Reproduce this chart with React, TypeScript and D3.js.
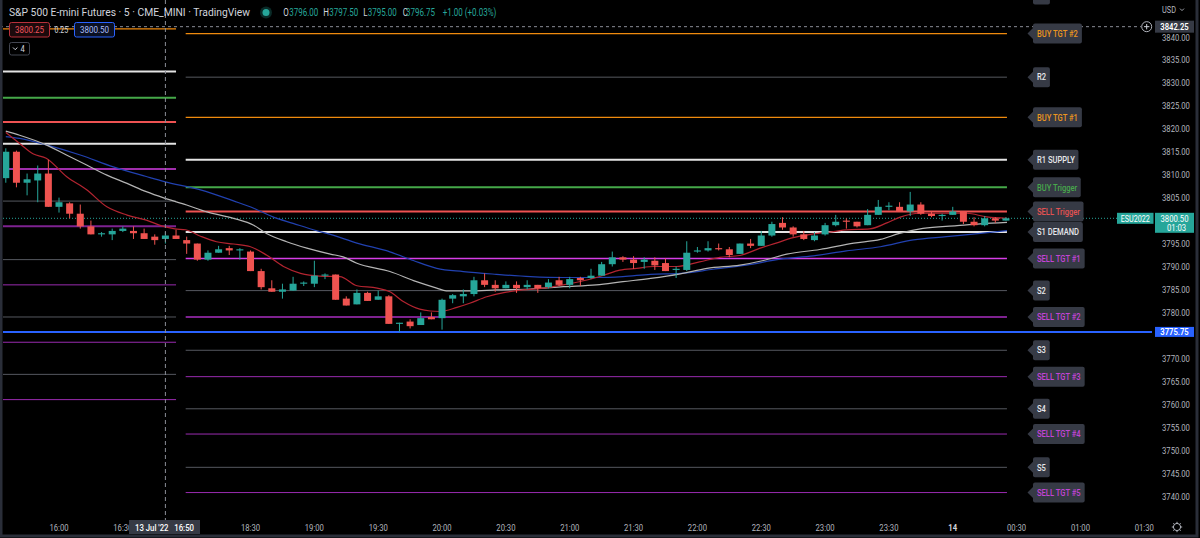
import React from "react";
import * as d3 from "d3";

// ---------- DATA ----------
// 5-minute bars, index 0 = 15:35 (13 Jul '22). Session break after index 16 (16:55), index 17 = 18:00.
// [open, high, low, close]
const candles: [number, number, number, number][] = [
  [3809.25, 3815.75, 3808.25, 3815.0],
  [3815.0, 3815.25, 3807.25, 3808.25],
  [3808.25, 3810.25, 3805.5, 3809.0],
  [3808.75, 3812.0, 3804.0, 3810.25],
  [3810.25, 3813.25, 3803.0, 3803.0],
  [3803.0, 3805.0, 3801.75, 3804.0],
  [3803.75, 3804.0, 3800.5, 3801.5],
  [3801.5, 3803.5, 3798.25, 3798.75],
  [3798.75, 3800.0, 3797.0, 3797.0],
  [3797.0, 3797.5, 3796.5, 3797.25],
  [3797.0, 3798.25, 3795.75, 3797.75],
  [3797.75, 3798.75, 3797.5, 3798.25],
  [3797.75, 3798.75, 3796.0, 3797.25],
  [3797.25, 3798.25, 3796.0, 3796.0],
  [3796.5, 3797.0, 3794.75, 3795.75],
  [3796.0, 3797.5, 3795.0, 3796.75],
  [3796.75, 3798.0, 3796.0, 3796.0],
  [3795.75, 3796.5, 3792.75, 3795.0],
  [3795.0, 3795.0, 3791.25, 3791.5],
  [3791.5, 3793.5, 3791.25, 3793.0],
  [3793.0, 3794.5, 3793.0, 3793.75],
  [3794.0, 3794.5, 3792.5, 3793.5],
  [3793.5, 3794.0, 3791.5, 3793.75],
  [3793.25, 3793.5, 3789.0, 3789.0],
  [3789.0, 3789.5, 3785.0, 3785.5],
  [3785.25, 3787.0, 3784.5, 3784.5],
  [3784.5, 3786.25, 3783.0, 3785.0],
  [3784.75, 3787.75, 3784.75, 3786.25],
  [3786.25, 3786.75, 3785.75, 3786.5],
  [3786.25, 3791.25, 3785.5, 3788.0],
  [3788.0, 3788.5, 3787.25, 3788.25],
  [3788.25, 3788.25, 3782.75, 3782.75],
  [3783.0, 3783.5, 3781.5, 3781.5],
  [3781.75, 3785.0, 3781.75, 3784.25],
  [3784.25, 3784.5, 3782.5, 3782.5],
  [3782.75, 3784.75, 3782.75, 3783.5],
  [3783.5, 3783.75, 3777.5, 3777.5],
  [3777.5, 3777.75, 3775.75, 3777.75],
  [3778.0, 3778.5, 3776.5, 3777.0],
  [3777.25, 3780.0, 3777.25, 3778.75],
  [3779.0, 3780.0, 3778.5, 3778.5],
  [3778.75, 3783.0, 3776.25, 3782.75],
  [3783.0, 3784.0, 3782.0, 3783.75],
  [3783.5, 3785.0, 3782.0, 3784.0],
  [3784.0, 3787.75, 3783.5, 3787.0],
  [3787.0, 3788.5, 3785.5, 3786.0],
  [3786.0, 3787.0, 3784.5, 3785.25],
  [3785.25, 3786.75, 3785.25, 3786.0],
  [3786.0, 3786.75, 3784.25, 3785.25],
  [3785.5, 3787.0, 3785.0, 3786.0],
  [3786.0, 3786.0, 3784.25, 3785.25],
  [3785.5, 3787.25, 3785.25, 3786.5],
  [3787.0, 3787.75, 3785.75, 3786.0],
  [3786.0, 3787.75, 3785.25, 3787.25],
  [3787.5, 3787.75, 3785.75, 3787.0],
  [3787.5, 3789.5, 3787.25, 3788.0],
  [3788.0, 3791.0, 3788.0, 3790.5],
  [3790.5, 3793.25, 3790.0, 3792.0],
  [3792.0, 3792.25, 3791.0, 3791.5],
  [3791.5, 3792.25, 3789.5, 3790.75],
  [3791.0, 3792.0, 3789.5, 3791.5],
  [3791.25, 3792.0, 3789.25, 3790.25],
  [3790.75, 3791.75, 3789.0, 3789.0],
  [3789.25, 3790.0, 3787.5, 3789.5],
  [3789.25, 3795.5, 3789.0, 3793.0],
  [3793.25, 3794.25, 3793.0, 3793.5],
  [3793.5, 3795.5, 3793.25, 3794.0],
  [3794.0, 3795.0, 3793.5, 3793.75],
  [3793.75, 3794.25, 3792.0, 3792.5],
  [3792.75, 3795.0, 3792.75, 3795.0],
  [3795.0, 3796.0, 3794.0, 3794.5],
  [3794.5, 3797.75, 3794.5, 3796.75],
  [3796.75, 3799.75, 3796.5, 3799.25],
  [3799.5, 3800.75, 3798.0, 3798.5],
  [3798.5, 3798.75, 3796.5, 3797.0],
  [3797.0, 3797.75, 3795.75, 3796.0],
  [3795.75, 3797.5, 3795.5, 3796.75],
  [3797.0, 3799.5, 3796.75, 3799.0],
  [3799.0, 3801.25, 3798.75, 3799.75],
  [3800.0, 3800.5, 3798.25, 3799.75],
  [3799.75, 3799.75, 3798.5, 3798.75],
  [3799.0, 3802.5, 3799.0, 3801.25],
  [3801.25, 3804.5, 3801.25, 3803.0],
  [3803.0, 3804.0, 3802.25, 3803.25],
  [3803.0, 3804.0, 3802.0, 3802.0],
  [3802.0, 3806.25, 3801.0, 3803.5],
  [3803.5, 3804.0, 3801.25, 3801.5],
  [3801.5, 3802.0, 3800.75, 3801.0],
  [3801.0, 3801.5, 3800.0, 3801.25],
  [3801.25, 3803.0, 3801.25, 3802.0],
  [3802.0, 3802.0, 3799.25, 3799.75],
  [3799.75, 3800.75, 3798.75, 3799.0],
  [3799.0, 3801.0, 3798.75, 3800.5],
  [3800.5, 3800.75, 3799.5, 3800.0],
  [3800.0, 3800.75, 3800.0, 3800.5],
];

// moving averages: [bar index, price]
const maFast: [number, number][] = [
  [0, 3819.2], [1.3, 3816.8], [2.6, 3814.5], [3.8, 3813.6], [5.7, 3809.6], [7.6, 3806.7], [9.5, 3803.0],
  [11.4, 3801.2], [13.2, 3800.1], [14.9, 3798.7], [15.9, 3798.2], [16.9, 3798.0], [18.3, 3796.6], [19.8, 3795.4],
  [21.4, 3794.9], [23, 3794.3], [24.5, 3792.5], [26.1, 3790.0], [27.7, 3788.5], [29.5, 3787.9], [31.4, 3787.8],
  [33, 3785.8], [34.9, 3785.3], [36.1, 3784.5], [37.4, 3782.3], [38.9, 3780.7], [39.9, 3780.3], [40.8, 3780.2],
  [42.4, 3781.1], [43.6, 3782.0], [45.2, 3783.4], [46.8, 3784.3], [48.6, 3784.9], [50.5, 3785.3], [52.4, 3786.0],
  [54.3, 3786.9], [56.2, 3788.1], [57.7, 3789.2], [59.3, 3789.6], [60.9, 3790.0], [63, 3790.0], [65.2, 3791.0],
  [67.1, 3792.0], [69, 3792.4], [70.9, 3794.0], [72.4, 3795.1], [74, 3796.3], [75.9, 3797.1], [77.8, 3797.6],
  [79, 3798.0], [81.2, 3798.2], [82.8, 3799.5], [84, 3800.7], [85.9, 3801.6], [87.2, 3801.6], [90.3, 3801.6],
  [92.2, 3800.8], [94.1, 3800.5],
];
const maMid: [number, number][] = [
  [0, 3819.5], [1.3, 3818.6], [3.8, 3816.5], [5.7, 3814.3], [7.6, 3812.1], [9.5, 3809.9], [11.4, 3808.1],
  [13.2, 3806.3], [14.9, 3804.9], [17, 3803.4], [18.9, 3801.9], [21.4, 3800.5], [23.3, 3799.0], [24.5, 3797.2],
  [26.4, 3795.4], [28.3, 3794.0], [30.5, 3792.7], [31.7, 3792.1], [33, 3790.7], [36.1, 3788.9], [38.6, 3786.7],
  [40.5, 3785.3], [41.4, 3784.7], [43.6, 3784.7], [46.1, 3784.9], [49.3, 3785.1], [52.4, 3785.6], [55.5, 3786.0],
  [58, 3786.7], [60.6, 3787.4], [63.4, 3788.4], [65.9, 3789.6], [69, 3790.3], [71.2, 3791.3], [73.4, 3792.7],
  [76.5, 3793.7], [79.7, 3795.1], [82.2, 3795.9], [84, 3797.2], [86.2, 3798.3], [89.4, 3798.9], [91.6, 3799.3],
  [94.1, 3799.6],
];
const maSlow: [number, number][] = [
  [0, 3818.3], [1.3, 3817.9], [3.8, 3816.5], [7, 3814.3], [10.1, 3811.7], [13.2, 3809.6], [14.9, 3808.5],
  [18.3, 3806.7], [21.4, 3804.3], [23.3, 3802.7], [25.1, 3800.8], [27, 3799.4], [28.9, 3798.0], [30.5, 3797.0],
  [33, 3795.1], [36.1, 3793.2], [38.3, 3791.3], [40.5, 3789.6], [43, 3788.9], [46.1, 3788.3], [49.3, 3787.8],
  [52.4, 3787.6], [55.5, 3787.6], [58, 3787.8], [60.6, 3788.3], [63.4, 3788.5], [66.5, 3789.4], [69.6, 3790.3],
  [72.8, 3791.6], [75.9, 3792.3], [79, 3793.4], [82.2, 3794.3], [85.3, 3795.8], [88.4, 3796.5], [91.6, 3797.2],
  [94.1, 3797.8],
];

// current session levels
const levelNames = [
  "R3", "BUY TGT #2", "R2", "BUY TGT #1", "R1 SUPPLY", "BUY Trigger", "SELL Trigger", "S1 DEMAND", "SELL TGT #1",
  "S2", "SELL TGT #2", "S3", "SELL TGT #3", "S4", "SELL TGT #4", "S5", "SELL TGT #5",
];
const levelPrices = [
  3849.25, 3840.75, 3831.25, 3822.5, 3813.25, 3807.25, 3802.0, 3797.5, 3791.75,
  3784.75, 3779.0, 3771.75, 3766.0, 3759.0, 3753.5, 3746.25, 3740.75,
];
const levelKinds = [
  "r", "buy", "r", "buy", "r1", "buyTrig", "sellTrig", "s1", "sell1",
  "s", "sell2", "s", "sell", "s", "sell", "s", "sell",
];
// previous session levels
const prevLevelPrices = [3841.75, 3832.5, 3826.75, 3821.5, 3816.75, 3811.25, 3804.25, 3798.75, 3791.5, 3786.0, 3779.0, 3773.5, 3766.5, 3761.0];
const prevLevelKinds = ["buy", "r1", "buyTrig", "sellTrig", "s1", "sell1", "s", "sell2", "s", "sell", "s", "sell", "s", "sell"];

const priceTicks = [3740, 3745, 3750, 3755, 3760, 3765, 3770, 3775, 3780, 3785, 3790, 3795, 3800, 3805, 3810, 3815, 3820, 3825, 3830, 3835, 3840];
const timeTickIdx = [5, 11, 23, 29, 35, 41, 47, 53, 59, 65, 71, 77, 83, 89, 95, 101, 107];
const timeTickLabels = ["16:00", "16:30", "18:30", "19:00", "19:30", "20:00", "20:30", "21:00", "21:30", "22:00", "22:30", "23:00", "23:30", "14", "00:30", "01:00", "01:30"];

const lastPrice = 3800.5;
const alertPrice = 3775.75;
const crossPrice = 3842.25;
const crossIdx = 15;
const session1End = 16;
const session2Start = 17;
const ohlcKeys = ["O", "H", "L", "C"];
const ohlcVals = ["3796.00", "3797.50", "3795.00", "3796.75"];
const ohlcChange = "+1.00 (+0.03%)";

// ---------- STYLE ----------
const UP = "#26a69a";
const DOWN = "#ef5350";
const KIND: Record<string, { stroke: string; w: number; text: string }> = {
  buy: { stroke: "#ef8a0e", w: 1.2, text: "#eb961e" },
  r: { stroke: "#55585f", w: 1, text: "#e6e7ea" },
  r1: { stroke: "#e4e4e4", w: 2, text: "#e6e7ea" },
  buyTrig: { stroke: "#45a849", w: 2, text: "#48a84c" },
  sellTrig: { stroke: "#ee5252", w: 2, text: "#e35252" },
  s1: { stroke: "#e4e4e4", w: 2, text: "#e6e7ea" },
  sell1: { stroke: "#d63ee6", w: 1.6, text: "#c344d6" },
  sell2: { stroke: "#7e2290", w: 2, text: "#c344d6" },
  sell: { stroke: "#9a2bb0", w: 1, text: "#c344d6" },
  s: { stroke: "#55585f", w: 1, text: "#e6e7ea" },
};
const FONT = "Roboto, 'Noto Sans', sans-serif";
// header piece positions (x of key letter, x of value)
const ohlcKeyX = [283.3, 323.3, 363.3, 402.7];
const ohlcValX = [289.3, 329.3, 367.7, 406];

let _ctx: CanvasRenderingContext2D | null = null;
function measure(s: string, font: string) {
  if (!_ctx) _ctx = document.createElement("canvas").getContext("2d");
  if (!_ctx) return s.length * 5;
  _ctx.font = font;
  return _ctx.measureText(s).width;
}

function T({ x, y, sx = 0.82, children, ...rest }: any) {
  return (
    <text transform={`translate(${x},${y}) scale(${sx},1)`} {...rest}>
      {children}
    </text>
  );
}

export default function App() {
  const W = 1200;
  const H = 538;
  const x = d3.scaleLinear().domain([0, 94]).range([5.8, 5.8 + 94 * 10.64]);
  const y = d3.scaleLinear().domain([3740, 3840]).range([496, 37]);
  const bodyW = 7;
  const plotL = 3;
  const plotR = 1152;

  const line = d3
    .line<[number, number]>()
    .x((d) => x(d[0]))
    .y((d) => y(d[1]))
    .curve(d3.curveMonotoneX);

  const labelX = 1033;
  const lblFontSize = 8.6;
  const lblSx = 0.88;

  // axis labels hidden behind price badges
  const visibleTicks = priceTicks.filter(
    (p) => Math.abs(y(p) - y(lastPrice)) > 9 && Math.abs(y(p) - y(alertPrice)) > 7
  );

  return (
    <svg
      width={W}
      height={H}
      style={{ position: "absolute", left: 0, top: 0, display: "block", background: "#000" }}
      fontFamily={FONT}
    >
      <defs>
        <clipPath id="plot">
          <rect x={plotL} y={0} width={plotR - plotL} height={514} />
        </clipPath>
      </defs>
      <rect x={0} y={0} width={W} height={H} fill="#000" />

      <g clipPath="url(#plot)">
        {/* previous session levels */}
        {prevLevelPrices.map((p, i) => {
          const k = KIND[prevLevelKinds[i]];
          return (
            <line key={"pl" + i} x1={plotL} x2={x(session1End)} y1={y(p)} y2={y(p)} stroke={k.stroke} strokeWidth={k.w} />
          );
        })}
        {/* current session levels */}
        {levelPrices.map((p, i) => {
          const k = KIND[levelKinds[i]];
          return (
            <line key={"cl" + i} x1={x(session2Start) - 1} x2={x(94) + 1} y1={y(p)} y2={y(p)} stroke={k.stroke} strokeWidth={k.w} />
          );
        })}
        {/* alert line */}
        <line x1={plotL} x2={1156} y1={y(alertPrice)} y2={y(alertPrice)} stroke="#2962ff" strokeWidth={2} />
        {/* last price dotted */}
        <line x1={plotL} x2={1117} y1={y(lastPrice)} y2={y(lastPrice)} stroke={UP} strokeWidth={1} strokeDasharray="1 2" />

        {/* MAs */}
        <path d={line(maSlow) || ""} fill="none" stroke="#2141b0" strokeWidth={1.2} />
        <path d={line(maMid) || ""} fill="none" stroke="#b4b4b4" strokeWidth={1.2} />
        <path d={line(maFast) || ""} fill="none" stroke="#b32430" strokeWidth={1.2} />

        {/* candles */}
        {candles.map((c, i) => {
          const [o, h, l, cl] = c;
          const col = cl >= o ? UP : DOWN;
          const cx = x(i);
          const top = y(Math.max(o, cl));
          const bh = Math.max(1, y(Math.min(o, cl)) - top);
          return (
            <g key={"c" + i}>
              <line x1={cx} x2={cx} y1={y(h)} y2={y(l)} stroke={col} strokeWidth={1} />
              <rect x={cx - bodyW / 2} y={top} width={bodyW} height={bh} fill={col} />
            </g>
          );
        })}
      </g>

      {/* crosshair */}
      <line x1={x(crossIdx)} x2={x(crossIdx)} y1={0} y2={520} stroke="#8a8d96" strokeWidth={1} strokeDasharray="4 3" />
      <line x1={0} x2={1141} y1={y(crossPrice)} y2={y(crossPrice)} stroke="#8a8d96" strokeWidth={1} strokeDasharray="3 3" />

      {/* level labels */}
      {levelPrices.map((p, i) => {
        const k = KIND[levelKinds[i]];
        const name = levelNames[i];
        const tw = measure(name, `${lblFontSize}px Roboto`) * lblSx;
        const cy = y(p);
        const bw = tw + 8;
        const visible = cy - 4 > 0;
        return (
          <g key={"lb" + i}>
            <path d={`M${labelX - 5.5},${cy} L${labelX},${cy - 5.5} L${labelX},${cy + 5.5} Z`} fill="#363a45" />
            <rect x={labelX} y={cy - 10} width={bw} height={20} rx={2} fill="#363a45" />
            {visible && (
              <T x={labelX + 4} y={cy + 3.2} sx={lblSx} fontSize={lblFontSize} fill={k.text} fontWeight={500}>
                {name}
              </T>
            )}
          </g>
        );
      })}

      {/* header */}
      <text x={9} y={16} fontSize={10} fill="#d1d4dc" textLength={241} lengthAdjust="spacingAndGlyphs">
        S&amp;P 500 E-mini Futures · 5 · CME_MINI · TradingView
      </text>
      <circle cx={266} cy={12.5} r={6} fill="rgba(38,166,154,0.25)" />
      <circle cx={266} cy={12.5} r={3.5} fill={UP} />
      {ohlcKeys.map((k, i) => (
        <g key={"ohlc" + i}>
          <T x={ohlcKeyX[i]} y={16} sx={0.8} fontSize={10} fill="#d1d4dc">{k}</T>
          <T x={ohlcValX[i]} y={16} sx={0.8} fontSize={10} fill={UP}>{ohlcVals[i]}</T>
        </g>
      ))}
      <T x={442.7} y={16} sx={0.8} fontSize={10} fill={UP}>{ohlcChange}</T>

      {/* bid/ask boxes */}
      <rect x={9.5} y={22.5} width={40} height={14.5} rx={2} fill="#1c0a0c" stroke="#b8303b" strokeWidth={1} />
      <T x={29.5} y={33.2} sx={0.82} fontSize={9.8} fill="#f0535d" textAnchor="middle">3800.25</T>
      <T x={54.5} y={33} sx={0.82} fontSize={8.6} fill="#d1d4dc">0.25</T>
      <rect x={74.5} y={22.5} width={40} height={14.5} rx={2} fill="#0a1022" stroke="#2962ff" strokeWidth={1} />
      <T x={94.5} y={33.2} sx={0.82} fontSize={9.8} fill="#a9bef8" textAnchor="middle">3800.50</T>
      <rect x={9.5} y={42.5} width={20} height={12.5} rx={2} fill="#000" stroke="#434651" strokeWidth={1} />
      <path d="M13,47.5 L15.2,49.7 L17.4,47.5" fill="none" stroke="#d1d4dc" strokeWidth={1} />
      <T x={20.5} y={52} sx={0.85} fontSize={9} fill="#d1d4dc">4</T>

      {/* price axis */}
      {visibleTicks.map((p) => (
        <T key={"pt" + p} x={1162} y={y(p) + 3.5} sx={0.8} fontSize={9.6} fill="#b2b5be">
          {d3.format(".2f")(p)}
        </T>
      ))}
      <T x={1162} y={12.5} sx={0.82} fontSize={9} fill="#b2b5be">USD</T>
      <path d="M1180,8.6 L1182,10.6 L1184,8.6" fill="none" stroke="#b2b5be" strokeWidth={0.9} />

      {/* crosshair price label */}
      <circle cx={1146.7} cy={y(crossPrice)} r={5} fill="#000" stroke="#b2b5be" strokeWidth={1} />
      <line x1={1144} x2={1149.4} y1={y(crossPrice)} y2={y(crossPrice)} stroke="#d1d4dc" strokeWidth={1} />
      <line x1={1146.7} x2={1146.7} y1={y(crossPrice) - 2.7} y2={y(crossPrice) + 2.7} stroke="#d1d4dc" strokeWidth={1} />
      <rect x={1155} y={y(crossPrice) - 6} width={39} height={12} fill="#363a45" />
      <T x={1174.5} y={y(crossPrice) + 3.4} sx={0.8} fontSize={9.6} fill="#fff" textAnchor="middle" fontWeight={600}>
        {d3.format(".2f")(crossPrice)}
      </T>

      {/* alert price label */}
      <rect x={1155} y={y(alertPrice) - 5} width={39} height={10} fill="#2962ff" />
      <T x={1174.5} y={y(alertPrice) + 3.4} sx={0.8} fontSize={9.6} fill="#fff" textAnchor="middle" fontWeight={600}>
        {d3.format(".2f")(alertPrice)}
      </T>

      {/* last price labels */}
      <rect x={1117} y={y(lastPrice) - 5.5} width={36.5} height={11} fill={UP} />
      <T x={1135.2} y={y(lastPrice) + 3.2} sx={0.8} fontSize={9} fill="#fff" textAnchor="middle">ESU2022</T>
      <rect x={1155} y={y(lastPrice) - 5.5} width={39} height={20} fill={UP} />
      <T x={1174.5} y={y(lastPrice) + 3.5} sx={0.8} fontSize={9.6} fill="#fff" textAnchor="middle">
        {d3.format(".2f")(lastPrice)}
      </T>
      <T x={1167} y={y(lastPrice) + 12.3} sx={0.8} fontSize={9.6} fill="#fff">01:03</T>

      {/* time axis */}
      {timeTickIdx.map((ti, i) => (
        <T
          key={"tt" + i}
          x={x(ti)}
          y={530.5}
          sx={0.8}
          fontSize={9.6}
          fill={timeTickLabels[i] === "14" ? "#d1d4dc" : "#b2b5be"}
          fontWeight={timeTickLabels[i] === "14" ? 700 : 400}
          textAnchor="middle"
        >
          {timeTickLabels[i]}
        </T>
      ))}
      <rect x={129} y={520} width={71} height={14} fill="#363a45" />
      <text x={135} y={530.5} fontSize={9.6} fill="#fff" fontWeight={500} textLength={59} lengthAdjust="spacingAndGlyphs">
        13 Jul '22{"\u00a0\u00a0\u00a0"}16:50
      </text>

      {/* gear */}
      <g transform="translate(1177,527)" stroke="#b2b5be" fill="none" strokeWidth={1}>
        <circle r={3.6} />
        {d3.range(8).map((k) => {
          const a = (k * Math.PI) / 4;
          return <line key={k} x1={Math.cos(a) * 3.6} y1={Math.sin(a) * 3.6} x2={Math.cos(a) * 5.2} y2={Math.sin(a) * 5.2} />;
        })}
      </g>

      {/* frame */}
      <rect x={1} y={-2} width={1196} height={538} fill="none" stroke="#2a2e39" strokeWidth={3} />
    </svg>
  );
}
